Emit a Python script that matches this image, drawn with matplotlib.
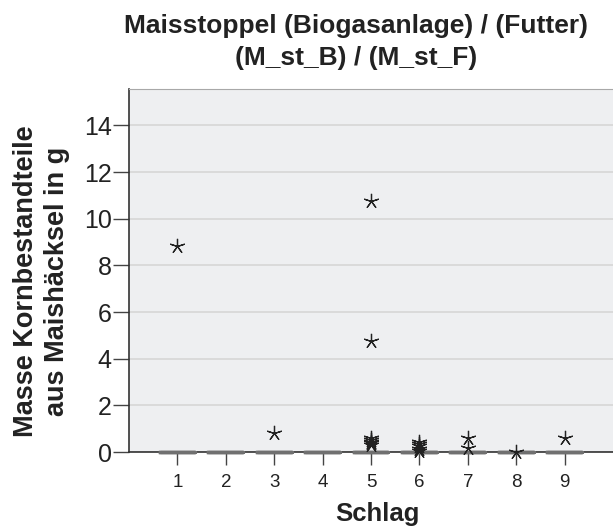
import matplotlib
matplotlib.use("Agg")
import matplotlib.pyplot as plt

# ── Data ────────────────────────────────────────────────────────────────
schlag = [1, 2, 3, 4, 5, 6, 7, 8, 9]
# box statistics (all quartiles and whiskers collapse to 0)
medians = [0, 0, 0, 0, 0, 0, 0, 0, 0]
extremes = [
    [8.83],
    [],
    [0.80],
    [],
    [10.76, 4.74, 0.62, 0.52, 0.45, 0.38, 0.32],
    [0.45, 0.35, 0.25, 0.12, 0.05],
    [0.58, 0.16],
    [0.02],
    [0.58],
]
yticks = [0, 2, 4, 6, 8, 10, 12, 14]

title = "Maisstoppel (Biogasanlage) / (Futter)\n(M_st_B) / (M_st_F)"
ylabel = "Masse Kornbestandteile\naus Maishäcksel in g"
xlabel = "Schlag"

# ── Style ───────────────────────────────────────────────────────────────
plt.rcParams.update({
    "font.family": ["Liberation Sans", "DejaVu Sans"],
})

fig = plt.figure(figsize=(6.13, 5.31), dpi=100)
ax = fig.add_axes([129 / 613, 79 / 531, 484 / 613, 362.7 / 531])
ax.set_facecolor("#eeeff1")

stats = [
    {"med": m, "q1": m, "q3": m, "whislo": m, "whishi": m, "fliers": f}
    for m, f in zip(medians, extremes)
]
art = ax.bxp(
    stats, positions=schlag, widths=0.72, showcaps=False,
    boxprops=dict(color="#707070", linewidth=2.4),
    whiskerprops=dict(color="#707070", linewidth=0),
    medianprops=dict(color="#707070", linewidth=2.4),
    flierprops=dict(marker=(5, 2, 0), markersize=11, markeredgecolor="#222222",
                    markeredgewidth=0.9, linestyle="none"),
)
for key in ("boxes", "medians", "fliers"):
    for a in art[key]:
        a.set_clip_on(False)
        a.set_zorder(5)

ax.set_xlim(0, 10)
ax.set_ylim(0, 15.55)
ax.set_xticks(schlag)
ax.set_xticklabels([str(s) for s in schlag])
ax.set_yticks(yticks)
ax.set_yticklabels([str(t) for t in yticks])
ax.tick_params(axis="x", length=9.5, width=1, color="#444444",
               labelsize=13.5, pad=6, labelcolor="#222222")
ax.tick_params(axis="y", length=11.5, width=1, color="#444444",
               labelsize=18, pad=1, labelcolor="#222222")

ax.yaxis.grid(True, color="#d6d6d6", linewidth=1.2)
ax.set_axisbelow(True)
for side in ("left", "bottom"):
    ax.spines[side].set_color("#333333")
    ax.spines[side].set_linewidth(1.2)
ax.spines["top"].set_color("#a8a8a8")
ax.spines["right"].set_visible(False)

fig.text(0.581, 0.973, title, ha="center", va="top", fontsize=19,
         fontweight="bold", color="#222222", linespacing=1.42)
fig.text(0.068, 0.471, ylabel, ha="center", va="center", rotation=90,
         fontsize=19.5, fontweight="bold", color="#222222", linespacing=1.22)
fig.text(0.615, 0.032, xlabel, ha="center", va="center", fontsize=18.5,
         fontweight="bold", color="#222222")

fig.savefig("out.png", dpi=100)
